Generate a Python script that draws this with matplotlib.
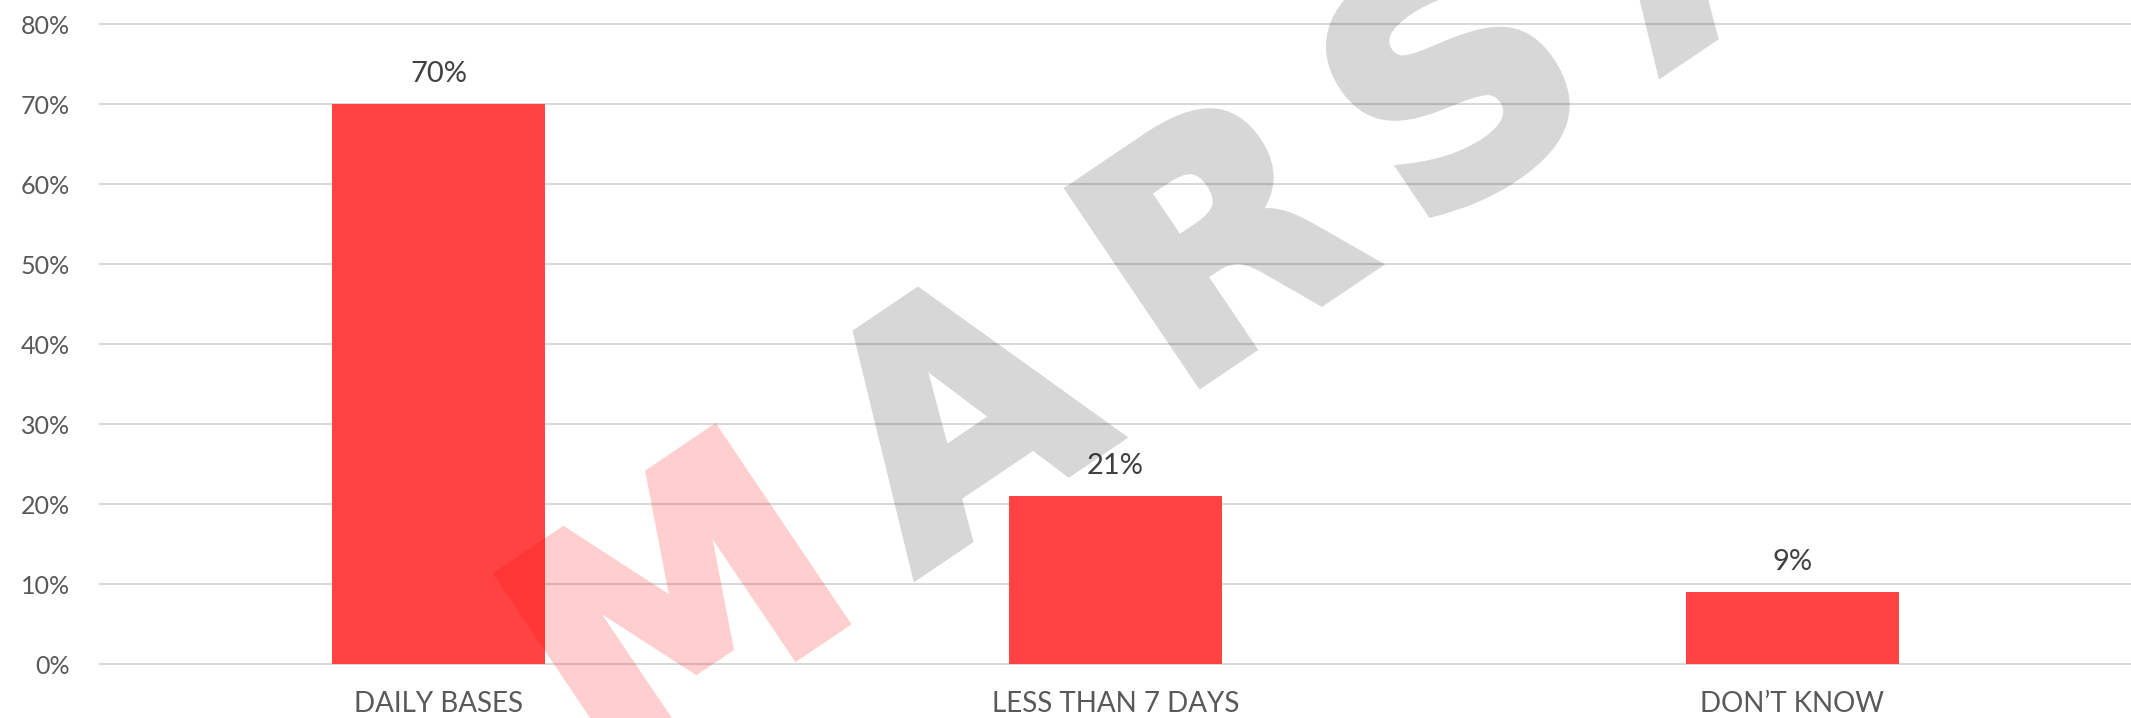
import numpy as np
import matplotlib
matplotlib.use("Agg")
import matplotlib.pyplot as plt
import matplotlib.patheffects as pe

plt.rcParams['font.family'] = ['Lato', 'DejaVu Sans']

# chart data
categories = ['DAILY BASES', 'LESS THAN 7 DAYS', 'DON\u2019T KNOW']
values = [70, 21, 9]
y_ticks = [0, 10, 20, 30, 40, 50, 60, 70, 80]

bar_color = '#FF4343'
grid_color = '#D9D9D9'

W, H = 2131, 718
fig = plt.figure(figsize=(W / 100, H / 100), dpi=100)
ax = fig.add_axes([100 / W, 54 / H, 2031 / W, 640 / H])

x = np.arange(len(categories))
ax.bar(x, values, width=0.315, color=bar_color, zorder=2)

for i, v in enumerate(values):
    ax.annotate(f"{v}%", (x[i], v), xytext=(0, 15.8), textcoords='offset points',
                ha='center', va='baseline', fontsize=21, color='#404040')

ax.set_xlim(-0.5, 2.5)
ax.set_ylim(0, 80)
ax.set_yticks(y_ticks)
ax.set_yticklabels([f"{t}%" for t in y_ticks])
ax.set_xticks(x)
ax.set_xticklabels(categories)
ax.tick_params(axis='y', length=0, labelsize=18, labelcolor='#595959', pad=21.6)
ax.tick_params(axis='x', length=0, labelsize=20, labelcolor='#595959', pad=19.5)
ax.yaxis.grid(True, color=grid_color, lw=1.5)
ax.set_axisbelow(True)
for line in ax.get_ygridlines():
    line.set_clip_on(False)
for s in ax.spines.values():
    s.set_visible(False)


# watermark, semi transparent over the chart
def fade(a):
    def f(im, dpi):
        im = im.copy()
        im[..., 3] *= a
        return im, 0, 0
    return f


wm_letters = list("MARSAD")
wm_offsets = [152, 491, 805, 1088, 1390, 1720]   # px along baseline
wm_colors = ['#FF0000', 'k', 'k', 'k', 'k', 'k']
wm_alpha = [0.19, 0.16, 0.16, 0.16, 0.16, 0.16]
x0, y0 = 611, 780
ang = np.degrees(np.arctan2(697, 1033))
ca, sa = np.cos(np.radians(ang)), np.sin(np.radians(ang))
for ch, d, c, a in zip(wm_letters, wm_offsets, wm_colors, wm_alpha):
    px = x0 + d * ca
    py = y0 - d * sa
    t = fig.text(px / W, (H - py) / H, ch, rotation=ang, rotation_mode='anchor',
                 ha='center', va='baseline', fontsize=229, fontweight='bold',
                 family='DejaVu Sans', color=c, zorder=10,
                 path_effects=[pe.withStroke(linewidth=8, foreground=c,
                                             joinstyle='miter')])
    t.set_agg_filter(fade(a))

fig.savefig('out.png', dpi=100)
